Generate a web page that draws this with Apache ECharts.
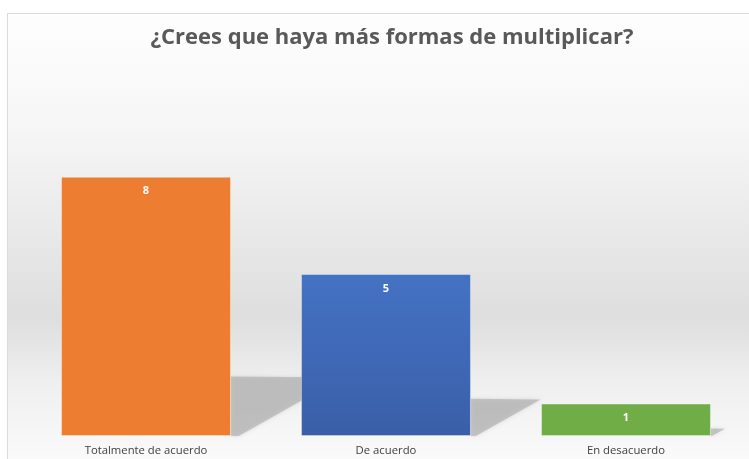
<!DOCTYPE html>
<html><head><meta charset="utf-8">
<script src="https://cdn.jsdelivr.net/npm/echarts@6/dist/echarts.min.js"></script>
<style>html,body{margin:0;padding:0;background:#fff}#c{width:749px;height:459px}</style>
</head><body><div id="c"></div>
<script>
const categories = ['Totalmente de acuerdo', 'De acuerdo', 'En desacuerdo'];
const values = [8, 5, 1];
const barColors = [
  ['#ED7D31', '#ED7D31'],
  ['#4472C4', '#3A5FA8'],
  ['#70AD47', '#70AD47']
];
const chart = echarts.init(document.getElementById('c'));
chart.setOption({
  animation: false,
  backgroundColor: '#ffffff',
  graphic: [{
    type: 'rect', z: -10, left: 7, top: 13,
    shape: { width: 760, height: 460 },
    style: {
      fill: new echarts.graphic.LinearGradient(0, 0, 0, 1, [
        { offset: 0, color: '#fefefe' },
        { offset: 0.25, color: '#f6f6f6' },
        { offset: 0.66, color: '#dedede' },
        { offset: 0.8, color: '#efefef' },
        { offset: 1, color: '#fcfcfc' }
      ]),
      stroke: '#d9d9d9', lineWidth: 1
    }
  }],
  title: {
    text: '¿Crees que haya más formas de multiplicar?',
    left: 387, top: 22, textAlign: 'center',
    textStyle: { fontFamily: 'Open Sans', fontWeight: 'bold', fontSize: 22, color: '#595959' }
  },
  grid: { left: 26, right: 3, top: 112, bottom: 23 },
  xAxis: {
    type: 'category', data: categories,
    axisLine: { show: false }, axisTick: { show: false },
    axisLabel: { fontFamily: 'Open Sans', fontSize: 11.3, color: '#404040', margin: 9 }
  },
  yAxis: { type: 'value', min: 0, max: 10, show: false, splitLine: { show: false } },
  series: [{
    type: 'custom',
    z: 1,
    silent: true,
    data: values.map((v, i) => [i, v]),
    renderItem: function (params, api) {
      const i = api.value(0), v = api.value(1);
      const top = api.coord([i, v]);
      const base = api.coord([i, 0]);
      const half = api.size([1, 0])[0] * 0.354;
      const rx = top[0] + half;
      const h = base[1] - top[1];
      const sh = h * 0.23;
      const sw = h * 0.43;
      return {
        type: 'polygon',
        shape: { points: [[rx, base[1] - sh], [rx + sw, base[1] - sh * 0.98], [rx + sw * 0.07, base[1]], [rx, base[1]]] },
        style: {
          fill: 'rgba(170,170,170,0.6)',
          shadowBlur: 4, shadowColor: 'rgba(170,170,170,0.6)'
        }
      };
    }
  }, {
    type: 'bar',
    z: 2,
    barWidth: '70.8%',
    data: values.map((v, i) => ({
      value: v,
      itemStyle: {
        color: new echarts.graphic.LinearGradient(0, 0, 0, 1, [
          { offset: 0, color: barColors[i][0] },
          { offset: 1, color: barColors[i][1] }
        ]),
        borderColor: 'rgba(255,255,255,0.35)', borderWidth: 1
      }
    })),
    label: {
      show: true, position: 'insideTop', distance: 9,
      fontFamily: 'Open Sans', fontWeight: 'bold', fontSize: 11, color: '#ffffff'
    }
  }]
});
</script></body></html>
